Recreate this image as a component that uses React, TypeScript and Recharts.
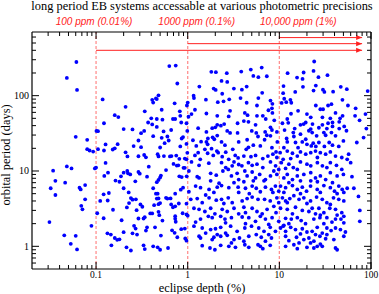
import { ScatterChart, Scatter, XAxis, YAxis, ReferenceLine } from "recharts";

// axis ticks
const depthMajorTicks = [0.1, 1, 10, 100];
const depthMinorTicks = [
  0.03, 0.04, 0.05, 0.06, 0.07, 0.08, 0.09,
  0.2, 0.3, 0.4, 0.5, 0.6, 0.7, 0.8, 0.9,
  2, 3, 4, 5, 6, 7, 8, 9,
  20, 30, 40, 50, 60, 70, 80, 90,
];
const periodMajorTicks = [1, 10, 100];
const periodMinorTicks = [
  0.6, 0.7, 0.8, 0.9,
  2, 3, 4, 5, 6, 7, 8, 9,
  20, 30, 40, 50, 60, 70, 80, 90,
  200, 300, 400, 500, 600,
];

// photometric precision limits
const precisionDepths = [0.1, 1, 10];
const precisionLabels = ["100 ppm (0.01%)", "1000 ppm (0.1%)", "10,000 ppm (1%)"];
const arrowPeriods = [400, 490, 590];
const arrowEndDepth = 80;

// [eclipse depth %, orbital period days]
const below01 = [
  [0.061, 280], [0.048, 172], [0.062, 119], [0.06, 28.4], [0.08, 25.9], [0.08, 19.5], [0.085, 18.7],
  [0.093, 18.1], [0.034, 10.1], [0.048, 11.5], [0.054, 10.8], [0.097, 10.8], [0.036, 7.4], [0.046, 7.0],
  [0.032, 5.9], [0.036, 4.8], [0.066, 6.0], [0.068, 5.7], [0.076, 6.5], [0.076, 4.2], [0.069, 3.45],
  [0.071, 3.1], [0.031, 2.1], [0.045, 1.4], [0.06, 1.38], [0.053, 1.08], [0.062, 0.91], [0.089, 1.87],
];

const from01to1 = [
  [0.63, 247], [0.74, 251], [0.77, 145], [0.118, 89], [0.41, 88], [0.45, 92], [0.46, 90], [0.48, 101],
  [0.42, 81], [0.72, 79], [0.98, 74], [0.21, 71], [0.34, 62], [0.52, 65], [0.82, 62], [0.16, 55],
  [0.175, 52], [0.4, 50], [0.46, 49], [0.53, 48], [0.69, 49], [0.73, 49], [0.83, 54], [0.85, 44],
  [0.97, 43], [0.122, 43], [0.37, 44], [0.41, 41.5], [0.46, 38.5], [0.2, 36], [0.25, 35.6], [0.335, 34],
  [0.31, 31.8], [0.545, 33.5], [0.66, 35], [0.101, 34], [0.105, 33.8], [0.42, 29], [0.52, 27.6],
  [0.6, 28.7], [0.62, 25.4], [0.86, 27], [0.89, 28.2], [0.99, 34], [0.29, 25.4], [0.172, 22.7],
  [0.127, 22.5], [0.257, 21.4], [0.31, 20.7], [0.5, 20.5], [0.56, 23.4], [0.83, 21.2], [0.97, 22.9],
  [0.16, 20], [0.152, 19.3], [0.105, 19.5], [0.122, 18.7], [0.21, 17.7], [0.22, 15.6], [0.29, 15.7],
  [0.335, 16.3], [0.35, 15.2], [0.47, 16.7], [0.48, 15.6], [0.55, 15.8], [0.64, 15.6], [0.665, 15.8],
  [0.75, 16], [0.81, 14.5], [0.99, 17.4], [0.93, 14.6], [0.97, 14.3], [0.127, 12.8], [0.7, 12.4],
  [0.76, 11.8], [0.79, 11.9], [0.9, 11], [0.93, 11], [0.376, 11.4],
  [0.1, 11.1], [0.103, 2.75], [0.111, 4.0], [0.121, 4.9], [0.123, 8.6], [0.135, 9.5], [0.138, 5.1],
  [0.134, 4.06], [0.153, 3.06], [0.121, 2.36], [0.163, 7.45], [0.18, 7.2], [0.187, 8.5], [0.2, 9.5],
  [0.219, 10], [0.223, 9.3], [0.236, 9.0], [0.2, 5.9], [0.227, 5.2], [0.24, 4.37], [0.25, 4.16],
  [0.229, 3.75], [0.217, 3.28], [0.272, 4.2], [0.268, 7.3], [0.29, 9.7], [0.3, 9.2], [0.36, 8.4],
  [0.42, 5.9], [0.45, 5.0], [0.47, 5.0], [0.46, 4.3], [0.48, 4.33], [0.46, 7.1], [0.48, 7.6], [0.5, 8.2],
  [0.51, 8.7], [0.58, 10.3], [0.81, 8.5], [0.86, 8.3], [0.975, 8.5], [0.84, 5.65], [0.89, 6.0],
  [0.73, 5.0], [0.58, 4.4], [0.6, 4.3], [0.65, 4.33], [0.48, 3.63], [0.5, 3.75], [0.43, 3.52],
  [0.66, 3.6], [0.69, 3.3], [0.73, 3.4], [0.8, 3.7], [0.97, 3.68], [0.305, 3.6], [0.32, 3.35],
  [0.277, 3.02], [0.39, 2.73], [0.41, 2.73], [0.48, 2.87], [0.49, 2.59], [0.53, 2.2], [0.73, 2.51],
  [0.73, 2.32], [0.74, 2.12], [0.88, 2.75], [0.97, 2.65], [0.29, 2.34], [0.33, 2.34], [0.34, 2.44],
  [0.19, 2.22], [0.36, 1.79], [0.44, 1.79], [0.26, 1.87], [0.27, 1.72], [0.35, 1.62], [0.2, 1.54],
  [0.25, 1.49], [0.28, 1.43], [0.133, 1.49], [0.145, 1.43], [0.16, 1.29], [0.17, 1.22], [0.18, 1.24],
  [0.147, 1.03], [0.215, 0.97], [0.24, 0.88], [0.33, 1.03], [0.34, 0.92], [0.42, 1.0], [0.47, 0.97],
  [0.5, 0.9], [0.51, 1.39], [0.61, 0.95], [0.675, 1.63], [0.72, 1.51], [0.77, 1.32], [0.85, 1.69],
  [0.93, 1.72], [0.94, 1.27], [0.97, 1.19],
];

const from1to10 = [
  [1.81, 207], [2.03, 205], [2.67, 199], [3.84, 209], [4.88, 222], [6.42, 236], [5.2, 183], [5.9, 176],
  [7.3, 181], [2.34, 157], [2.7, 152], [1.34, 132], [1.92, 124], [2.02, 119], [3.19, 124], [3.9, 120],
  [4.4, 132], [2.38, 106], [2.84, 89.5], [2.46, 84], [2.13, 82], [1.58, 88.4], [1.16, 100], [1.17, 93],
  [3.77, 93], [4.4, 80.5], [5.9, 93], [6.5, 109], [8.0, 86], [8.4, 78], [1.0, 81], [1.02, 52.5], [1.0, 2.55],
  [1.2, 65], [5.7, 74], [1.6, 58], [2.1, 54], [2.8, 53], [2.9, 63], [4.2, 59], [4.5, 55], [5.7, 54],
  [6.6, 54], [7.6, 64], [8.3, 68], [8.4, 59], [1.1, 57], [3.5, 43], [4.1, 46], [4.6, 45], [5.5, 41],
  [7.1, 49], [8.8, 47], [2.1, 41], [2.3, 40], [2.5, 42], [1.3, 37], [1.85, 37], [2.0, 38], [8.0, 38],
  [2.7, 34], [2.9, 32], [3.5, 32], [5.0, 34], [5.6, 32], [7.0, 33], [8.3, 35], [1.6, 33], [2.1, 29.5],
  [1.66, 27], [1.4, 24.5], [1.14, 25.6], [1.87, 28], [1.95, 26.4], [4.45, 26], [5.85, 28.7], [7.3, 29.8],
  [6.9, 26], [8.0, 29.3], [9.4, 33], [1.6, 24.3], [1.65, 22.6], [2.34, 24.3], [2.55, 22], [3.6, 24.3],
  [5.2, 22], [6.2, 21.5], [9.5, 24.3], [1.24, 21.5], [1.3, 17.5], [1.54, 19.4], [1.82, 19.8], [2.08, 18.4],
  [2.6, 17.8], [3.1, 19.4], [4.35, 19.4], [4.6, 20.6], [8.3, 20.4], [9.2, 17.9], [1.2, 16.1], [1.37, 14.3],
  [1.65, 17.2], [1.9, 16.1], [2.15, 17.5], [2.38, 15.5], [3.3, 16.1], [3.55, 14.9], [4.1, 15.8],
  [4.9, 15.5], [5.5, 16.1], [6.6, 14.6], [7.5, 15.8], [8.5, 16.7], [9.4, 15.1], [2.8, 14.3], [1.1, 13.2],
  [1.33, 11.9], [1.7, 12.7], [2.34, 12.9], [3.2, 13.2], [3.6, 12.2], [3.9, 11.7], [4.6, 12.9],
  [5.05, 11.9], [5.7, 12.3], [6.6, 11.1], [8.0, 13.2], [9.1, 11.7], [9.85, 10.5], [2.6, 11.1],
  [3.06, 11.7], [1.03, 10], [1.27, 8.4], [1.78, 9.3], [2.05, 8.8], [2.42, 10], [2.77, 10.5], [3.0, 8.6],
  [3.46, 9.3], [3.6, 7.7], [4.2, 10], [4.45, 8.6], [5.05, 9.7], [5.5, 8.1], [6.1, 9.0], [7.05, 7.7],
  [8.0, 8.6], [8.7, 10], [9.4, 9.0], [1.33, 8.1], [1.78, 7.4], [3.2, 7.0], [4.1, 7.2], [5.2, 7.4],
  [6.8, 7.4], [2.2, 6.9],
  [1.22, 6.3], [1.38, 6.0], [1.71, 5.7], [2.1, 6.1], [2.34, 6.4], [2.81, 6.0], [3.55, 6.1], [4.27, 5.9],
  [5.05, 6.3], [5.6, 5.9], [7.05, 6.1], [8.2, 5.7], [9.06, 6.3], [9.85, 5.4], [1.03, 5.3], [1.93, 5.2],
  [3.6, 5.2], [4.7, 5.0], [6.2, 5.3], [8.5, 5.2], [1.08, 4.2], [1.27, 4.3], [1.44, 3.8], [1.71, 4.4],
  [2.05, 4.1], [2.34, 4.2], [2.77, 4.4], [3.06, 3.8], [3.93, 4.0], [4.45, 4.3], [5.05, 4.5], [5.85, 4.2],
  [6.9, 4.2], [7.95, 4.0], [9.4, 4.4], [1.57, 4.8], [2.48, 3.7], [9.85, 3.8], [1.17, 3.2], [1.33, 3.1],
  [1.54, 2.9], [1.78, 3.2], [2.38, 3.1], [2.7, 2.9], [3.2, 3.2], [4.1, 3.3], [4.27, 2.8], [5.05, 3.2],
  [5.7, 2.9], [7.35, 3.1], [8.7, 3.4], [9.2, 2.8], [1.98, 2.7], [3.6, 2.7], [6.5, 2.7], [1.38, 2.3],
  [1.68, 2.5], [1.85, 2.4], [2.29, 2.5], [2.55, 2.3], [3.0, 2.4], [3.93, 2.45], [4.64, 2.4], [5.49, 2.15],
  [6.2, 2.5], [7.05, 2.3], [8.33, 2.4], [9.85, 2.15], [1.22, 2.1], [2.59, 2.05], [4.27, 2.0], [7.66, 1.95],
  [1.17, 1.85], [1.44, 1.75], [1.78, 1.67], [2.01, 1.71], [2.29, 1.79], [2.94, 1.85], [3.46, 1.58],
  [4.2, 1.75], [4.97, 1.85], [5.96, 1.75], [6.8, 1.58], [7.95, 1.79], [9.06, 1.58], [1.57, 1.5],
  [2.1, 1.43], [2.59, 1.5], [1.33, 1.36], [1.38, 1.29], [1.93, 1.32], [2.29, 1.36], [2.7, 1.4], [3.2, 1.23],
  [3.67, 1.29], [4.64, 1.36], [5.6, 1.43], [6.35, 1.32], [7.66, 1.43], [8.2, 1.29], [1.85, 1.23],
  [3.0, 1.11], [4.1, 1.17], [7.05, 1.17], [1.44, 1.02], [1.75, 0.95], [1.98, 0.9], [2.29, 1.03],
  [2.81, 1.0], [3.32, 0.97], [4.2, 1.05], [4.64, 0.97], [5.85, 1.05], [6.2, 1.0], [7.95, 1.03], [6.6, 0.93],
];

const from10to100 = [
  [24, 284], [23.6, 213], [12.3, 199], [15.6, 174], [17.9, 167], [18.4, 203], [26.7, 176], [33.5, 187],
  [11.1, 134], [11.0, 108], [11.3, 91], [11.9, 82], [13.2, 88], [13.5, 80.5], [14.9, 112], [18.1, 131],
  [23.6, 117], [25, 136], [29.9, 120], [31, 112], [38.6, 113], [46.8, 131], [54.5, 122], [48.8, 88],
  [92, 115],
  [25, 74], [28, 66], [30, 66], [34, 74], [37, 77], [56, 74], [68, 68], [10.6, 80], [16, 63], [13.4, 57.5],
  [20, 57], [41, 59], [49, 54], [67, 54], [87, 57], [12.2, 49], [22, 51.5], [29.5, 51.5], [36, 50],
  [46, 50], [10.8, 43], [12.5, 43.6], [17, 41], [18.4, 42], [19.4, 44], [23, 42], [29.5, 41], [34, 43],
  [38, 44], [45, 45], [51, 39], [75, 47], [14.7, 36.6], [22, 36], [27, 37.5], [33, 36.6], [38, 39],
  [45, 36.6], [11.4, 34.9], [14.2, 32.4], [17, 30.8], [21, 34.2], [22.8, 32.4], [25.5, 29.3], [30.6, 32.4],
  [32, 29.8], [37, 32.4], [41, 29.3], [54, 34.2], [89, 36.6], [83, 27.8], [12, 27], [14.4, 28.7],
  [19.4, 26.4], [12.2, 24.3], [15, 23.9], [17.8, 24.3], [20, 22.6], [22.3, 21.5], [23.4, 23.4], [25, 21.2],
  [27, 23.9], [31, 21.2], [35, 23.9], [38, 22], [44.5, 21.2], [50, 25.1], [70, 23.9], [11.2, 20.4],
  [16, 20.4], [10.2, 17.5], [12.2, 18.4], [13.9, 17.2], [15.7, 15.8], [17, 17.9], [19.4, 16.7], [22, 17.5],
  [24.8, 18.4], [28, 17.5], [32, 16.7], [36, 17.9], [41, 15.8], [48, 15.1], [55, 14.3], [57, 16.7],
  [13.3, 14.6], [26, 15.1], [11, 14.3], [10.5, 12.9], [12.7, 12.3], [14.2, 11.1], [17, 13.2], [20, 12.3],
  [22, 11.7], [26, 12.9], [29.5, 11.7], [33, 11.1], [36, 12.9], [42, 11.9], [48, 10.5], [11.7, 10.8],
  [15.7, 10.5], [60, 12.9], [12.2, 9.0], [13.9, 7.7], [15.7, 8.6], [18.5, 9.0], [22, 9.5], [24.8, 8.1],
  [28, 8.6], [32, 7.7], [36, 9.5], [42.7, 8.6], [50, 9.0], [62, 8.4], [11.2, 8.1], [12.7, 7.0], [17, 7.4],
  [22, 7.4], [26, 7.2], [38, 7.0],
  [10.3, 6.3], [11.7, 6.0], [13.9, 6.4], [15.7, 5.7], [17.8, 6.1], [19.8, 5.4], [21.9, 6.3], [25.9, 5.7],
  [30.6, 6.4], [36, 6.0], [40, 5.4], [44.5, 6.3], [48.5, 5.7], [55, 5.9], [65, 5.9], [11.2, 5.2], [17, 5.0],
  [28, 5.2], [42.7, 5.0], [50.5, 5.2], [10.8, 4.4], [13, 4.3], [14.4, 4.7], [16.4, 4.2], [18.5, 4.4],
  [21.9, 4.0], [25.5, 4.5], [29.4, 4.2], [33, 3.8], [39, 4.4], [44.5, 4.2], [50.5, 4.0], [73, 4.6],
  [12.2, 3.8], [20, 3.7], [36, 3.6], [11.7, 4.0], [10.3, 3.2], [12.2, 3.1], [15, 3.3], [17.8, 3.0],
  [21, 2.9], [22.8, 3.2], [27, 3.2], [30.6, 2.8], [35.5, 3.2], [41, 3.1], [48, 2.8], [75.5, 3.0],
  [13.9, 2.7], [24.8, 2.7], [28, 2.6], [42.7, 2.6], [50.5, 2.5], [11.7, 2.35], [13.5, 2.3], [15.7, 2.4],
  [17.3, 2.2], [19.3, 2.0], [23.8, 2.3], [27.7, 2.4], [33, 2.4], [37.5, 2.1], [41, 2.3], [47, 2.3],
  [50.5, 2.05], [75.5, 2.15], [12.7, 2.0], [30.6, 2.0], [11.2, 1.9], [10.3, 1.75], [11, 1.85],
  [13.3, 1.79], [15, 1.67], [17.8, 1.71], [20, 1.55], [22.8, 1.58], [25.9, 1.79], [29.4, 1.5], [33, 1.75],
  [36.7, 1.62], [41, 1.75], [46.4, 1.67], [52.6, 1.55], [11.7, 1.58], [17, 1.46], [24.8, 1.43],
  [11.7, 1.36], [12.7, 1.19], [15.4, 1.32], [18.5, 1.23], [21, 1.29], [23.8, 1.17], [27.7, 1.36],
  [32, 1.26], [33, 1.43], [39.3, 1.23], [50.5, 1.36], [14.4, 1.05], [16.4, 1.11], [21.9, 1.11], [28, 1.07],
  [11.7, 1.0], [15.7, 0.93], [20, 0.97], [23.8, 0.95], [25.9, 1.0], [29.4, 1.0], [41, 0.95], [42.7, 0.9],
];

const systems = [...below01, ...from01to1, ...from1to10, ...from10to100].map(([depth, period]) => ({ depth, period }));

const depthTicks = [...depthMajorTicks, ...depthMinorTicks].sort((a, b) => a - b);
const periodTicks = [...periodMajorTicks, ...periodMinorTicks].sort((a, b) => a - b);

const SERIF = "'Liberation Serif', 'Times New Roman', serif";
const SANS = "'Liberation Sans', Arial, sans-serif";
const RED = "#ff2020";
const labelShift = [-2, 9, 19];

const xTick = (side) => (props) => {
  const { x, y, payload } = props;
  const major = depthMajorTicks.includes(payload.value);
  const len = major ? 7 : 4;
  const dir = side === "bottom" ? -1 : 1;
  return (
    <g>
      <line x1={x} y1={y} x2={x} y2={y + dir * len} stroke="#000" strokeWidth={1} />
      {side === "bottom" && major && (
        <text x={x} y={y + 9} textAnchor="middle" fontSize={9.5} fontFamily={SERIF} fill="#000">
          {String(payload.value)}
        </text>
      )}
    </g>
  );
};

const yTick = (side) => (props) => {
  const { x, y, payload } = props;
  const major = periodMajorTicks.includes(payload.value);
  const len = major ? 7 : 4;
  const dir = side === "left" ? 1 : -1;
  return (
    <g>
      <line x1={x} y1={y} x2={x + dir * len} y2={y} stroke="#000" strokeWidth={1} />
      {side === "left" && major && (
        <text x={x - 3} y={y + 3.3} textAnchor="end" fontSize={10} fontFamily={SERIF} fill="#000">
          {String(payload.value)}
        </text>
      )}
    </g>
  );
};

const arrowShape = (props) => {
  const { x1, y1, x2, y2 } = props;
  return (
    <g>
      <line x1={x1} y1={y1} x2={x2} y2={y2} stroke={RED} strokeWidth={1} />
      <polygon points={`${x2},${y2} ${x2 - 6},${y2 - 2.5} ${x2 - 6},${y2 + 2.5}`} fill={RED} />
    </g>
  );
};

export default function App() {
  const axisLine = { stroke: "#000", strokeWidth: 1.2 };
  return (
    <div style={{ position: "absolute", left: 0, top: 0, width: 379, height: 294, background: "#fff" }}>
      <ScatterChart width={379} height={294} margin={{ top: 0, right: 0, bottom: 0, left: 0 }}>
        <XAxis
          xAxisId="bottom"
          orientation="bottom"
          dataKey="depth"
          type="number"
          scale="log"
          domain={[0.02, 100]}
          allowDataOverflow
          ticks={depthTicks}
          interval={0}
          height={25}
          tickSize={0}
          tickMargin={0}
          tickLine={false}
          axisLine={axisLine}
          tick={xTick("bottom")}
        />
        <XAxis
          xAxisId="top"
          orientation="top"
          dataKey="depth"
          type="number"
          scale="log"
          domain={[0.02, 100]}
          allowDataOverflow
          ticks={depthTicks}
          interval={0}
          height={32}
          tickSize={0}
          tickMargin={0}
          tickLine={false}
          axisLine={axisLine}
          tick={xTick("top")}
        />
        <YAxis
          yAxisId="left"
          orientation="left"
          dataKey="period"
          type="number"
          scale="log"
          domain={[0.5, 700]}
          allowDataOverflow
          ticks={periodTicks}
          interval={0}
          width={32}
          tickSize={0}
          tickMargin={0}
          tickLine={false}
          axisLine={axisLine}
          tick={yTick("left")}
        />
        <YAxis
          yAxisId="right"
          orientation="right"
          dataKey="period"
          type="number"
          scale="log"
          domain={[0.5, 700]}
          allowDataOverflow
          ticks={periodTicks}
          interval={0}
          width={8}
          tickSize={0}
          tickMargin={0}
          tickLine={false}
          axisLine={axisLine}
          tick={yTick("right")}
        />
        {precisionDepths.map((d, i) => (
          <ReferenceLine
            key={`lim-${d}`}
            xAxisId="bottom"
            yAxisId="left"
            x={d}
            stroke="#ff9090"
            strokeWidth={1.3}
            strokeDasharray="3 2"
            label={(p) => (
              <text
                x={p.viewBox.x + labelShift[i]}
                y={p.viewBox.y - 7}
                textAnchor="middle"
                fontSize={10}
                fontStyle="italic"
                fontFamily={SANS}
                fill={RED}
              >
                {precisionLabels[i]}
              </text>
            )}
          />
        ))}
        {precisionDepths.map((d, i) => (
          <ReferenceLine
            key={`arrow-${d}`}
            xAxisId="bottom"
            yAxisId="left"
            segment={[
              { x: d, y: arrowPeriods[i] },
              { x: arrowEndDepth, y: arrowPeriods[i] },
            ]}
            shape={arrowShape}
          />
        ))}
        <Scatter
          xAxisId="bottom"
          yAxisId="left"
          data={systems}
          isAnimationActive={false}
          shape={(p) => <circle cx={p.cx} cy={p.cy} r={1.9} fill="#0000ff" />}
        />
      </ScatterChart>
      <svg width={379} height={294} style={{ position: "absolute", left: 0, top: 0, pointerEvents: "none" }}>
        <text x={202} y={10} textAnchor="middle" fontSize={12.4} fontFamily={SERIF} fill="#000">
          long period EB systems accessable at various photometric precisions
        </text>
        <text x={202} y={291.5} textAnchor="middle" fontSize={12.4} fontFamily={SERIF} fill="#000">
          eclipse depth (%)
        </text>
        <text
          x={10}
          y={155}
          transform="rotate(-90 10 155)"
          textAnchor="middle"
          fontSize={12.4}
          fontFamily={SERIF}
          fill="#000"
        >
          orbital period (days)
        </text>
      </svg>
    </div>
  );
}
